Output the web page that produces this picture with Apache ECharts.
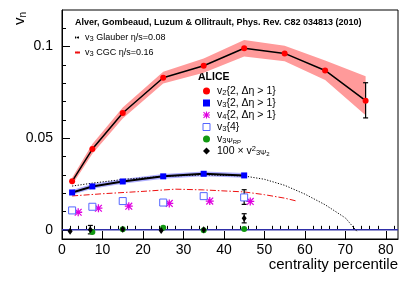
<!DOCTYPE html>
<html><head><meta charset="utf-8">
<script src="https://cdn.jsdelivr.net/npm/echarts@6/dist/echarts.min.js"></script>
<style>html,body{margin:0;padding:0;background:#fff}#c{width:415px;height:281px}</style>
</head><body><div id="c"></div>
<script>
// ---- data ----
const v2X = [2.5, 7.5, 15, 25, 35, 45, 55, 65, 75];
const v2Y = [0.0265, 0.0441, 0.0638, 0.0830, 0.0896, 0.0991, 0.0963, 0.0870, 0.0705];
const v2Hi = [0.0285, 0.0468, 0.0668, 0.0863, 0.0935, 0.1036, 0.1005, 0.0925, 0.0839];
const v2Lo = [0.0245, 0.0416, 0.0608, 0.0799, 0.0858, 0.0946, 0.0920, 0.0818, 0.0626];
const v2ErrX = [75];
const v2ErrLo = [0.0611];
const v2ErrHi = [0.0803];

const v3X = [2.5, 7.5, 15, 25, 35, 45];
const v3Y = [0.0204, 0.0237, 0.0264, 0.0292, 0.0306, 0.0297];
const v3Hi = [0.0217, 0.0250, 0.0277, 0.0305, 0.0319, 0.0310];
const v3Lo = [0.0191, 0.0224, 0.0251, 0.0279, 0.0293, 0.0284];

const v34X = [2.5, 7.5, 15, 25, 35, 45];
const v34Y = [0.0106, 0.0126, 0.0157, 0.0149, 0.0184, 0.0177];
const v34ErrX = [45];
const v34ErrLo = [0.0139];
const v34ErrHi = [0.0219];

const v4X = [4, 9, 16.5, 26.5, 36.5, 46.5];
const v4Y = [0.0096, 0.0118, 0.0129, 0.0144, 0.0157, 0.0155];

const rpX = [7.5, 15, 25, 35, 45];
const rpY = [-0.0012, 0.0003, 0.0012, -0.0002, 0.0005];

const psiX = [2, 7, 15, 24.5, 35, 45];
const psiY = [-0.0008, 0.0000, 0.0003, -0.0004, 0.0000, 0.0063];
const psiErrX = [7, 45];
const psiErrLo = [-0.0022, 0.0038];
const psiErrHi = [0.0024, 0.0088];

const glauberX = [2.5, 7.5, 15, 25, 35, 45, 50, 55, 60, 65, 70, 73];
const glauberY = [0.0239, 0.0255, 0.0275, 0.0292, 0.0300, 0.0294, 0.0276, 0.0243, 0.0195, 0.0137, 0.0065, -0.0012];

const cgcX = [2.5, 10, 20, 28, 35, 45, 50, 55, 58];
const cgcY = [0.0185, 0.0197, 0.0210, 0.0222, 0.0218, 0.0207, 0.0192, 0.0173, 0.0157];

const zeroLevel = 0;

const xMajorTicks = [0, 10, 20, 30, 40, 50, 60, 70, 80];
const xMinorTicks = [2,4,6,8,12,14,16,18,22,24,26,28,32,34,36,38,42,44,46,48,52,54,56,58,62,64,66,68,72,74,76,78,82];
const yMajorTicks = [0, 0.05, 0.1];
const yMinorTicks = [0.01,0.02,0.03,0.04,0.06,0.07,0.08,0.09,0.11];

const X_MIN = 0, X_MAX = 83, Y_MIN = -0.005, Y_MAX = 0.12;

// ---- helpers ----
const zip = (xs, ys) => xs.map((x, i) => [x, ys[i]]);
const zip3 = (xs, a, b) => xs.map((x, i) => [x, a[i], b[i]]);

function bandRender(xs, lo, hi, fill) {
  return function (params, api) {
    if (params.dataIndex !== 0) return null;
    const pts = [];
    for (let i = 0; i < xs.length; i++) pts.push(api.coord([xs[i], hi[i]]));
    for (let i = xs.length - 1; i >= 0; i--) pts.push(api.coord([xs[i], lo[i]]));
    return { type: 'polygon', shape: { points: pts }, style: { fill: fill } };
  };
}
function errRender(params, api) {
  const x = api.value(0);
  const p1 = api.coord([x, api.value(1)]);
  const p2 = api.coord([x, api.value(2)]);
  const w = 2.5, s = { stroke: '#000', lineWidth: 1.2 };
  return { type: 'group', children: [
    { type: 'line', shape: { x1: p1[0], y1: p1[1], x2: p2[0], y2: p2[1] }, style: s },
    { type: 'line', shape: { x1: p1[0] - w, y1: p1[1], x2: p1[0] + w, y2: p1[1] }, style: s },
    { type: 'line', shape: { x1: p2[0] - w, y1: p2[1], x2: p2[0] + w, y2: p2[1] }, style: s }
  ]};
}

const starPath = 'path://M-0.8,-5L0.8,-5L0.8,5L-0.8,5Z M-5,-0.8L5,-0.8L5,0.8L-5,0.8Z M-3.7,-4.8L4.8,3.7L3.7,4.8L-4.8,-3.7Z M3.7,-4.8L4.8,-3.7L-3.7,4.8L-4.8,3.7Z';

const FONT = 'Liberation Sans, Arial, Helvetica, sans-serif';
const richBase = {
  s: { fontSize: 7.5, lineHeight: 7, verticalAlign: 'bottom', fontFamily: FONT, color: '#000' },
  ss: { fontSize: 6, lineHeight: 5, verticalAlign: 'bottom', fontFamily: FONT, color: '#000' },
  sup: { fontSize: 7.5, lineHeight: 7, verticalAlign: 'top', fontFamily: FONT, color: '#000' }
};
const aliceNames = {
  v2: 'v{s|2}{2, Δη > 1}',
  v3: 'v{s|3}{2, Δη > 1}',
  v4: 'v{s|4}{2, Δη > 1}',
  v34: 'v{s|3}{4}',
  rp: 'v{s|3Ψ}{ss|RP}',
  psi: '100 × v{sup|2}{s|3Ψ}{ss|2}'
};
const theoryNames = {
  glauber: 'v{s|3} Glauber η/s=0.08',
  cgc: 'v{s|3} CGC η/s=0.16'
};

const axisCommon = {
  type: 'value',
  splitLine: { show: false },
  axisLine: { show: true, onZero: false, lineStyle: { color: '#000', width: 1 } }
};

const chart = echarts.init(document.getElementById('c'), null, { renderer: 'canvas' });
chart.setOption({
  animation: false,
  backgroundColor: '#fff',
  grid: { left: 62, right: 17, top: 10, bottom: 42, show: true, borderColor: '#000', borderWidth: 1 },
  xAxis: [
    Object.assign({}, axisCommon, {
      min: X_MIN, max: X_MAX, position: 'bottom',
      axisTick: { show: true, inside: true, length: 8, customValues: xMajorTicks, lineStyle: { color: '#000' } },
      axisLabel: { show: true, customValues: xMajorTicks, fontSize: 14, color: '#000', fontFamily: FONT, margin: 4 }
    }),
    Object.assign({}, axisCommon, {
      min: X_MIN, max: X_MAX, position: 'bottom', axisLine: { show: false },
      axisTick: { show: true, inside: true, length: 4, customValues: xMinorTicks, lineStyle: { color: '#000' } },
      axisLabel: { show: false }
    })
  ],
  yAxis: [
    Object.assign({}, axisCommon, {
      min: Y_MIN, max: Y_MAX, position: 'left',
      axisTick: { show: true, inside: true, length: 8, customValues: yMajorTicks, lineStyle: { color: '#000' } },
      axisLabel: { show: true, customValues: yMajorTicks, fontSize: 14, color: '#000', fontFamily: FONT, margin: 9,
                   formatter: v => String(v) }
    }),
    Object.assign({}, axisCommon, {
      min: Y_MIN, max: Y_MAX, position: 'left', axisLine: { show: false },
      axisTick: { show: true, inside: true, length: 4, customValues: yMinorTicks, lineStyle: { color: '#000' } },
      axisLabel: { show: false }
    })
  ],
  legend: [
    {
      orient: 'vertical', left: 74, top: 32, padding: 0, itemWidth: 5, itemHeight: 2, itemGap: 4,
      data: ['glauber', 'cgc'],
      formatter: n => theoryNames[n],
      selectedMode: false,
      textStyle: { fontSize: 9, lineHeight: 11, color: '#000', fontFamily: FONT, rich: richBase }
    },
    {
      orient: 'vertical', left: 202.5, top: 85, padding: 0, itemWidth: 7, itemHeight: 7, itemGap: 0,
      data: [
        { name: 'v2', icon: 'circle' },
        { name: 'v3', icon: 'rect' },
        { name: 'v4', icon: starPath },
        { name: 'v34', icon: 'rect', itemStyle: { color: '#fff', borderColor: '#5566ff', borderWidth: 1 } },
        { name: 'rp', icon: 'circle' },
        { name: 'psi', icon: 'diamond' }
      ],
      formatter: n => aliceNames[n],
      selectedMode: false,
      textStyle: { fontSize: 10.5, lineHeight: 12, color: '#000', fontFamily: FONT, rich: richBase, padding: [0, 0, 0, 2] }
    }
  ],
  graphic: [
    { type: 'text', x: 75, y: 23, style: { text: 'Alver, Gombeaud, Luzum & Ollitrault, Phys. Rev. C82 034813 (2010)',
      font: 'bold 9px ' + FONT, fill: '#000', textVerticalAlign: 'middle' } },
    { type: 'text', x: 198, y: 77.5, style: { text: 'ALICE', font: 'bold 10.5px ' + FONT, fill: '#000', textVerticalAlign: 'middle' } },
    { type: 'text', x: 398, y: 265, style: { text: 'centrality percentile', font: '15px ' + FONT, fill: '#000',
      textAlign: 'right', textVerticalAlign: 'middle' } },
    { type: 'text', x: 20, y: 25, rotation: Math.PI / 2, style: { text: '{a|v}{b|n}', textVerticalAlign: 'middle',
      rich: { a: { fontSize: 15, lineHeight: 16, fontFamily: FONT, color: '#000' },
              b: { fontSize: 10, lineHeight: 8, verticalAlign: 'bottom', fontFamily: FONT, color: '#000' } } } }
  ],
  series: [
    { type: 'custom', name: 'v2band', renderItem: bandRender(v2X, v2Lo, v2Hi, '#ff9a9a'),
      data: zip3(v2X, v2Lo, v2Hi), encode: { x: 0, y: [1, 2] }, z: 1, silent: true },
    { type: 'custom', name: 'v3band', renderItem: bandRender(v3X, v3Lo, v3Hi, 'rgba(110,110,255,0.55)'),
      data: zip3(v3X, v3Lo, v3Hi), encode: { x: 0, y: [1, 2] }, z: 1, silent: true },
    { type: 'line', name: 'zero', data: [[X_MIN, zeroLevel], [X_MAX, zeroLevel]], symbol: 'none', z: 2,
      lineStyle: { color: '#2f2fa8', width: 1.5 } },
    { type: 'line', name: 'glauber', data: zip(glauberX, glauberY), symbol: 'none', z: 3,
      lineStyle: { color: '#000', width: 1, type: [1.2, 1.6] }, itemStyle: { color: '#000' } },
    { type: 'line', name: 'cgc', data: zip(cgcX, cgcY), symbol: 'none', z: 3,
      lineStyle: { color: '#ee1111', width: 1, type: [6, 2, 1.5, 2] }, itemStyle: { color: '#ee1111' } },
    { type: 'line', name: 'v2line', data: zip(v2X, v2Y), symbol: 'none', z: 4,
      lineStyle: { color: '#000', width: 1.5 } },
    { type: 'line', name: 'v3line', data: zip(v3X, v3Y), symbol: 'none', z: 4,
      lineStyle: { color: '#000', width: 2 } },
    { type: 'custom', name: 'errs', renderItem: errRender, z: 5,
      data: zip3(v2ErrX, v2ErrLo, v2ErrHi).concat(zip3(v34ErrX, v34ErrLo, v34ErrHi), zip3(psiErrX, psiErrLo, psiErrHi)),
      encode: { x: 0, y: [1, 2] } },
    { type: 'scatter', name: 'v2', data: zip(v2X, v2Y), symbol: 'circle', symbolSize: 6, z: 6,
      itemStyle: { color: '#ff0000', opacity: 1 } },
    { type: 'scatter', name: 'v3', data: zip(v3X, v3Y), symbol: 'rect', symbolSize: 6, z: 6,
      itemStyle: { color: '#0000ff', opacity: 1 } },
    { type: 'scatter', name: 'v4', data: zip(v4X, v4Y), symbol: starPath, symbolSize: 8, z: 6,
      itemStyle: { color: '#e000e0', opacity: 1 } },
    { type: 'scatter', name: 'v34', data: zip(v34X, v34Y), symbol: 'rect', symbolSize: 7, z: 6,
      itemStyle: { color: '#fff', borderColor: '#5566ff', borderWidth: 1, opacity: 1 } },
    { type: 'scatter', name: 'rp', data: zip(rpX, rpY), symbol: 'circle', symbolSize: 6, z: 7,
      itemStyle: { color: '#119911', opacity: 1 } },
    { type: 'scatter', name: 'psi', data: zip(psiX, psiY), symbol: 'diamond', symbolSize: [5, 7], z: 7,
      itemStyle: { color: '#000', opacity: 1 } }
  ]
});
</script></body></html>
